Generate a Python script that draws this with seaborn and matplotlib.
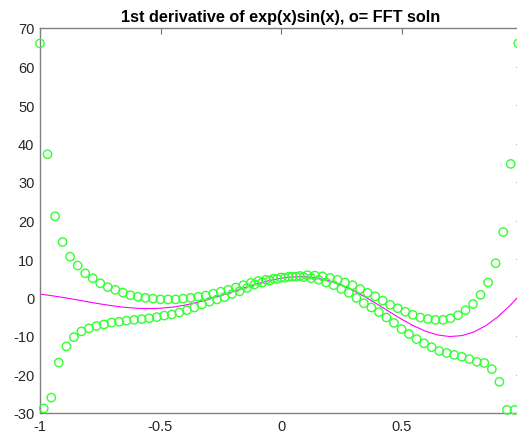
import numpy as np
import pandas as pd
import matplotlib
matplotlib.use("Agg")
import matplotlib.pyplot as plt
import seaborn as sns

# FFT solution on 128 grid points, split into even and odd grid indices
n_grid = 128
even_y = [66.0, 37.2, 21.1, 14.4, 10.6, 8.3, 6.3, 5.0, 3.7, 2.7,
          2.0, 1.3, 0.6, 0.2, -0.1, -0.3, -0.5, -0.5, -0.5, -0.3,
          -0.1, 0.2, 0.5, 1.0, 1.5, 2.0, 2.6, 3.2, 3.8, 4.3,
          4.6, 4.9, 5.2, 5.4, 5.4, 5.3, 5.0, 4.6, 3.9, 3.2,
          2.2, 1.2, -0.1, -1.5, -2.6, -3.8, -5.2, -6.6, -8.2, -9.5,
          -10.8, -11.9, -12.9, -13.9, -14.4, -14.9, -15.4, -16.0, -16.7, -17.0,
          -18.6, -21.9, -29.2, -29.2]
odd_y = [-28.8, -26.0, -16.9, -12.7, -10.3, -8.8, -8.0, -7.4, -7.0, -6.5,
         -6.3, -6.0, -5.8, -5.6, -5.4, -5.1, -4.7, -4.4, -3.9, -3.3,
         -2.6, -1.8, -1.1, -0.5, 0.1, 0.9, 1.6, 2.5, 3.4, 3.9,
         4.4, 4.8, 5.1, 5.4, 5.6, 5.8, 5.7, 5.5, 5.1, 4.6,
         3.9, 3.2, 2.2, 1.2, 0.3, -0.8, -1.9, -2.8, -3.7, -4.5,
         -5.2, -5.6, -5.8, -5.8, -5.4, -4.6, -3.3, -1.7, 0.7, 3.9,
         8.9, 17.0, 34.7, 66.0]

# exact derivative curve (magenta), read every 0.05 in x
line_x = np.linspace(-1, 1, 41)
line_y = [0.88, 0.46, -0.03, -0.57, -1.13, -1.67, -2.15, -2.54, -2.79, -2.89,
          -2.79, -2.50, -2.00, -1.32, -0.48, 0.49, 1.52, 2.56, 3.54, 4.37,
          5.00, 5.35, 5.38, 5.04, 4.33, 3.24, 1.82, 0.13, -1.75, -3.71,
          -5.62, -7.35, -8.76, -9.73, -10.14, -9.90, -8.96, -7.31, -5.00, -2.10,
          1.25]

xticks = [-1, -0.5, 0, 0.5]
xtick_labels = ["-1", "-0.5", "0", "0.5"]
yticks = list(range(-30, 71, 10))
ytick_labels = [str(v) for v in yticks]

grid_x = np.linspace(-1, 1, n_grid, endpoint=False)
df_pts = pd.DataFrame({
    "x": np.concatenate([grid_x[0::2], grid_x[1::2]]),
    "y": np.concatenate([even_y, odd_y]),
})
df_line = pd.DataFrame({"x": line_x, "y": line_y})

sns.set_theme(style="white")
plt.rcParams["font.family"] = ["Liberation Sans", "DejaVu Sans"]
plt.rcParams["axes.unicode_minus"] = False

fig = plt.figure(figsize=(5.17, 4.35), dpi=100)
ax = fig.add_axes([40 / 517, 21 / 435, 482 / 517, 385 / 435])

sns.lineplot(data=df_line, x="x", y="y", ax=ax, color="#ff00ff", linewidth=0.8,
             estimator=None, sort=False)
sns.scatterplot(data=df_pts, x="x", y="y", ax=ax, marker="o", s=36,
                facecolors="none", edgecolor="#33ff33", linewidth=1.0,
                clip_on=False, zorder=3)

ax.set_xlim(-1, 1)
ax.set_ylim(-30, 70)
ax.set_xticks(xticks)
ax.set_xticklabels(xtick_labels)
ax.set_yticks(yticks)
ax.set_yticklabels(ytick_labels)
ax.set_xlabel("")
ax.set_ylabel("")
ax.tick_params(direction="in", length=4, width=0.8, color="#707070",
               labelsize=10.5, labelcolor="#262626", top=True, right=True,
               pad=4)
for sp in ax.spines.values():
    sp.set_visible(True)
    sp.set_color("#808080")
    sp.set_linewidth(1.0)
ax.set_title("1st derivative of exp(x)sin(x), o= FFT soln", fontsize=11.7,
             fontweight="bold", color="black", pad=5)

fig.savefig("out.png", dpi=100)
